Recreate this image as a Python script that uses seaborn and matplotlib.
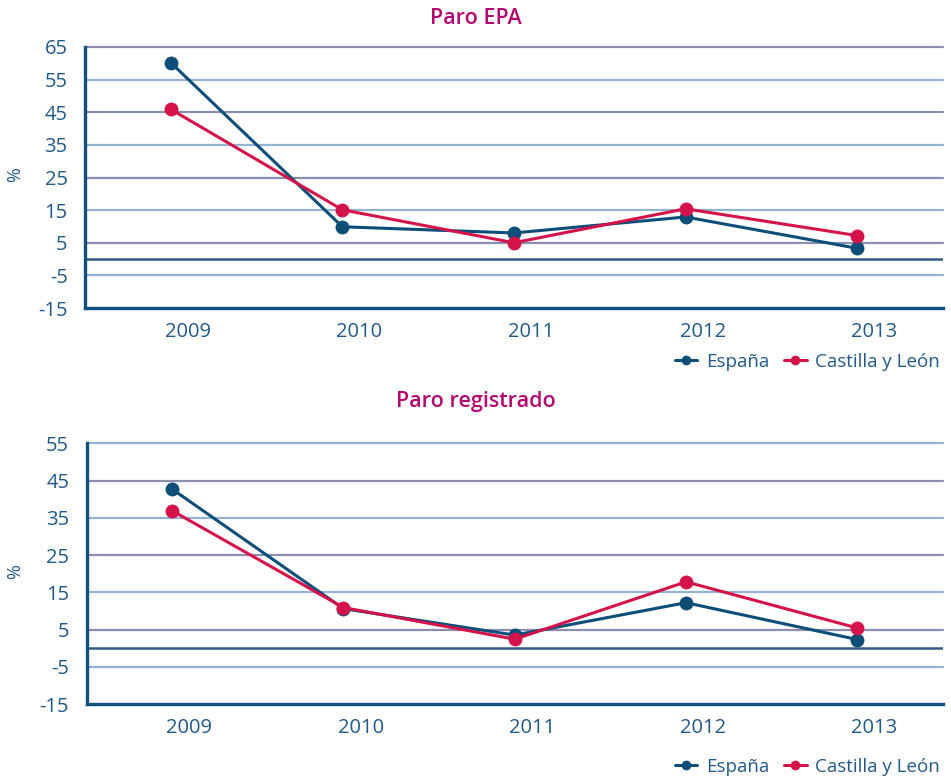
import numpy as np
import pandas as pd
import matplotlib
matplotlib.use("Agg")
import matplotlib.pyplot as plt
import seaborn as sns

# ---- data ----
years = ["2009", "2010", "2011", "2012", "2013"]
series_names = ["España", "Castilla y León"]
epa_espana = [60.2, 9.9, 8.0, 12.9, 3.3]
epa_cyl = [45.9, 15.1, 5.0, 15.4, 7.2]
reg_espana = [42.7, 10.6, 3.5, 12.2, 2.3]
reg_cyl = [36.9, 10.9, 2.4, 17.8, 5.4]
titles = ["Paro EPA", "Paro registrado"]
yticks_epa = [-15, -5, 5, 15, 25, 35, 45, 55, 65]
yticks_reg = [-15, -5, 5, 15, 25, 35, 45, 55]

sns.set_style("white")
plt.rcParams["font.family"] = ["Open Sans", "DejaVu Sans"]

C_ES = "#0d4e79"
C_CYL = "#d5134b"
C_TXT = "#21598a"
C_AX = "#0f507c"
C_TITLE = "#b4086f"
C_GRID_A = "#93b3d6"
C_GRID_B = "#8a8fb0"
C_ZERO = "#345a86"

fig = plt.figure(figsize=(9.51, 7.79), dpi=100)
W, H = 951, 779
axes_px = [(85, 943, 47, 308), (86.5, 943, 443.3, 704)]
title_y = [18, 402]
legend_y = [362, 767]
pct_y = [175, 572]
datasets = [(epa_espana, epa_cyl, yticks_epa), (reg_espana, reg_cyl, yticks_reg)]

for k, (l, r, t, b) in enumerate(axes_px):
    ax = fig.add_axes([l / W, 1 - b / H, (r - l) / W, (b - t) / H])
    es, cyl, yt = datasets[k]
    df = pd.DataFrame({
        "x": list(range(len(years))) * 2,
        "year": years * 2,
        "value": es + cyl,
        "serie": [series_names[0]] * len(years) + [series_names[1]] * len(years),
    })
    # grid lines
    for i, v in enumerate(yt[1:]):
        ax.axhline(v, color=C_GRID_A if i % 2 == 0 else C_GRID_B, lw=1.6,
                   zorder=1, clip_on=False)
    ax.axhline(0, color=C_ZERO, lw=1.8, zorder=1)
    sns.lineplot(data=df, x="x", y="value", hue="serie", palette=[C_ES, C_CYL],
                 hue_order=series_names, marker="o", markersize=10,
                 markeredgewidth=0, lw=2.2, ax=ax, zorder=3, legend=True)
    ax.set_xlim(-0.5, len(years) - 0.5)
    ax.set_ylim(yt[0], yt[-1])
    ax.set_yticks(yt)
    ax.set_yticklabels([str(v) for v in yt])
    # x: boundary ticks (major), labels as minor ticks
    ax.set_xticks(np.arange(-0.5, len(years), 1.0))
    ax.set_xticklabels([])
    ax.set_xticks(np.arange(len(years)) + 0.1, minor=True)
    ax.set_xticklabels(years, minor=True)
    ax.tick_params(axis="x", which="major", direction="out", length=8, width=2.2, color=C_AX)
    ax.tick_params(axis="x", which="minor", length=0, pad=10, labelsize=14.5, labelcolor=C_TXT)
    ax.tick_params(axis="y", direction="out", length=6.5, width=1.8, color=C_AX,
                   pad=6, labelsize=14.5, labelcolor=C_TXT)
    for s in ["top", "right"]:
        ax.spines[s].set_visible(False)
    for s in ["left", "bottom"]:
        ax.spines[s].set_color(C_AX)
        ax.spines[s].set_linewidth(2.4)
    ax.set_xlabel("")
    ax.set_ylabel("")
    ax.set_facecolor("none")
    fig.text(15 / W, 1 - pct_y[k] / H, "%", rotation=90, ha="center", va="center",
             color=C_TXT, fontsize=13)
    fig.text(476 / W, 1 - title_y[k] / H, titles[k], ha="center", va="center",
             fontsize=15.5, color=C_TITLE, fontweight="semibold")
    handles, labels = ax.get_legend_handles_labels()
    for h in handles:
        h.set_markersize(7)
    leg = ax.legend(handles, labels, loc="center right",
                    bbox_to_anchor=(1.005, -(legend_y[k] - b) / (b - t)),
                    ncol=2, frameon=False, fontsize=13.5, handlelength=1.2,
                    handletextpad=0.45, columnspacing=0.8, borderaxespad=0)
    for txt in leg.get_texts():
        txt.set_color(C_TXT)

fig.savefig("out.png", dpi=100)
